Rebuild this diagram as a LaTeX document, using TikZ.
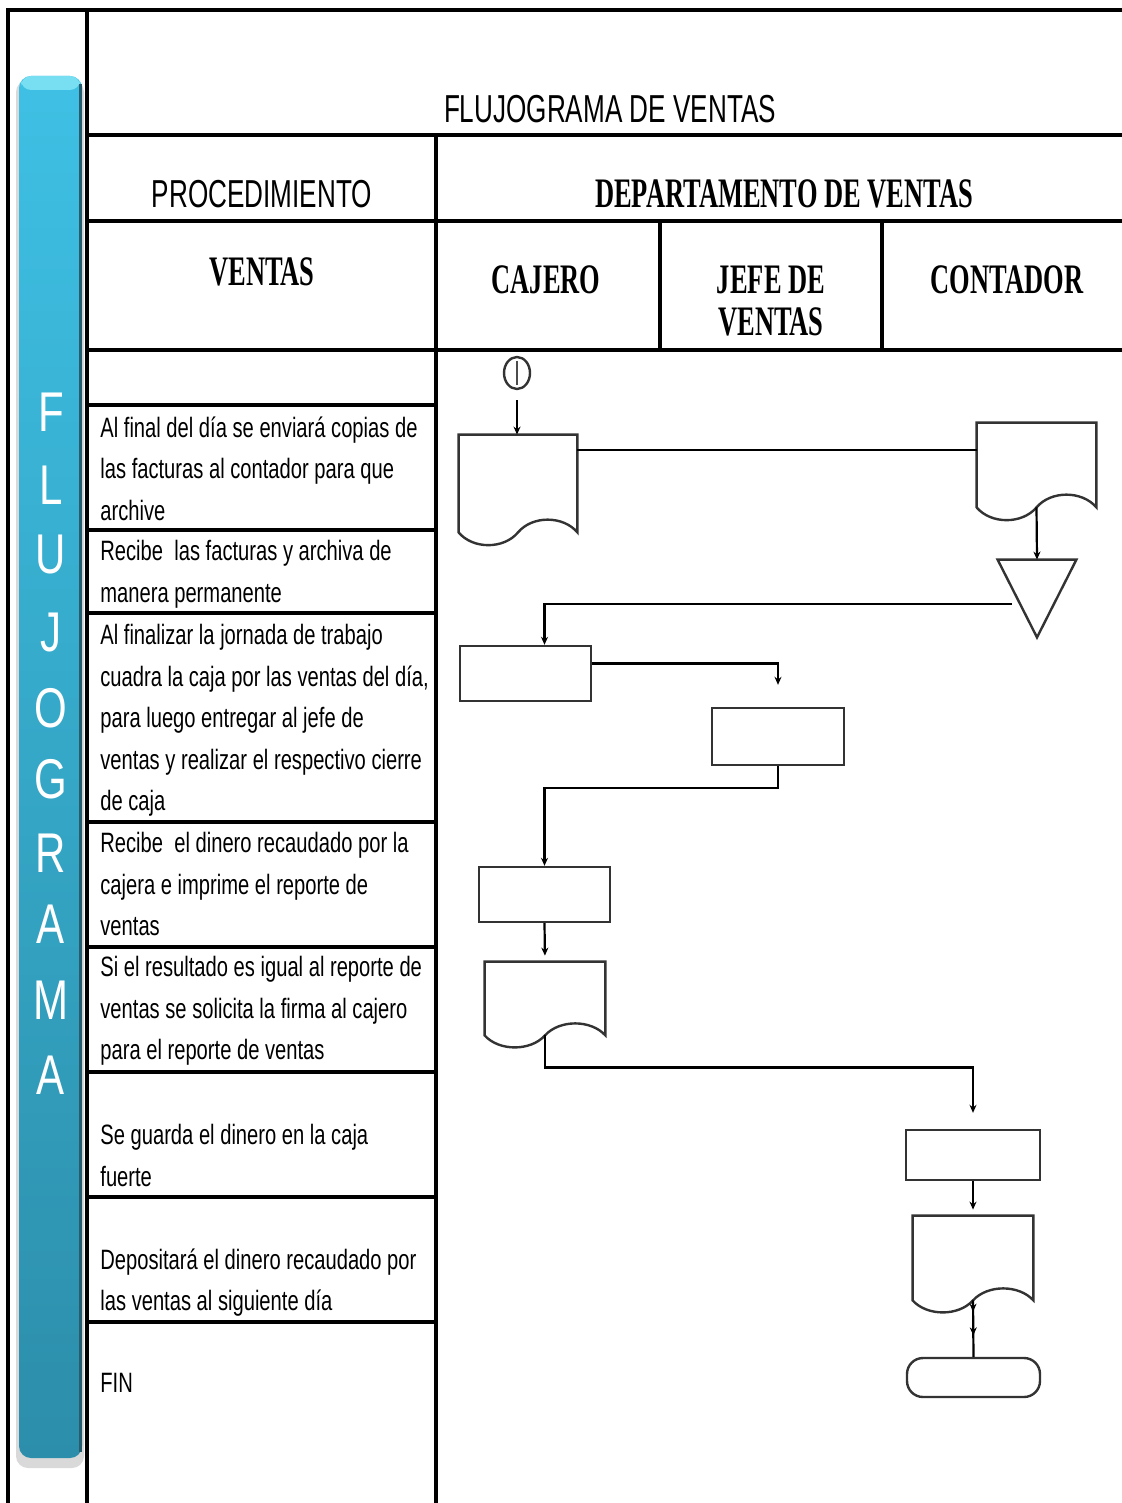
\documentclass[tikz,border=0pt]{standalone}
\usepackage{fontspec}
\usetikzlibrary{calc,fit,arrows.meta,shapes.geometric,decorations.markings}
\newfontfamily\hdsans{Liberation Sans}[FakeStretch=0.67]
\newfontfamily\hdserif{Liberation Serif}[FakeStretch=0.63]
\newfontfamily\stepsans{Liberation Sans}[FakeStretch=0.72]
\newfontfamily\barsans{Liberation Sans}[FakeStretch=0.75]
\definecolor{bartop}{RGB}{62,192,228}
\definecolor{barbot}{RGB}{44,142,170}
\definecolor{barhi}{RGB}{120,222,242}
\definecolor{baredge}{RGB}{38,92,108}
\newcommand\docdraw[2]{%
  \draw[shapeline] (#1.south west) -- (#1.north west) -- (#1.north east) -- (#1.south east)
    .. controls ($(#1.south east)!0.12!(#1.south west)+(0,-#2)$) and ($(#1.south east)!0.38!(#1.south west)+(0,-#2)$) .. ($(#1.south east)!0.5!(#1.south west)$)
    .. controls ($(#1.south east)!0.62!(#1.south west)+(0,#2)$) and ($(#1.south east)!0.88!(#1.south west)+(0,#2)$) .. (#1.south west) -- cycle;}
\begin{document}
\begin{tikzpicture}[x=0.5pt,y=-0.5pt,
  grid/.style={line width=1.75pt, line cap=rect},
  shapeline/.style={draw=black!80, line width=1.2pt},
  procbox/.style={shapeline, rectangle, inner sep=0pt},
  conn/.style={line width=1.1pt, black},
  arr/.style={conn, -{Stealth[length=4pt,width=3.5pt]}},
  headsans/.style={font=\hdsans\fontsize{19.5}{23}\selectfont, inner sep=0pt},
  headserif/.style={font=\hdserif\bfseries\fontsize{21}{21}\selectfont, inner sep=0pt},
  steptext/.style={font=\stepsans\fontsize{14}{20.75}\selectfont, anchor=north west, inner sep=0pt, align=left},
  barletter/.style={font=\barsans\fontsize{28}{28}\selectfont, text=white, inner sep=0pt}
]
\useasboundingbox (0,0) rectangle (1122,1503);
\fill[white] (0,0) rectangle (1122,1503);

% side bar
\fill[black!15, rounded corners=6pt] (16,80) rectangle (84,1468);
\shade[top color=bartop, bottom color=barbot, rounded corners=6pt] (19,76) rectangle (82,1458);
\fill[barhi, rounded corners=5pt] (21,76) rectangle (80,90);
\fill[baredge] (79,84) rectangle (82,1452);
\foreach \c/\yy [count=\i] in {F/412,L/485,U/555,J/633,O/708,G/779,R/853,A/924,M/1000,A/1075}
  \node[barletter] (bl\i) at (51,\yy) {\c};

% table grid
\draw[grid] (8,10) -- (1122,10);
\draw[grid] (8,10) -- (8,1503);
\draw[grid] (87,10) -- (87,1503);
\draw[grid] (87,135) -- (1122,135);
\draw[grid] (436,135) -- (436,1503);
\draw[grid] (87,221) -- (1122,221);
\draw[grid] (87,350) -- (1122,350);
\draw[grid] (660,221) -- (660,350);
\draw[grid] (882,221) -- (882,350);
\foreach \y in {405,530,613,822,947,1072,1197,1322} \draw[grid] (87,\y) -- (436,\y);

% headers
\node[headsans] (title) at (610,109) {FLUJOGRAMA DE VENTAS};
\node[headsans] (proc) at (262,194) {PROCEDIMIENTO};
\node[headserif] (dept) at (784,194) {DEPARTAMENTO DE VENTAS};
\node[headserif] (vent) at (262,272) {VENTAS};
\node[headserif] (caj) at (546,280) {CAJERO};
\node[headserif, align=center] (jefe) at (771,301) {JEFE DE\\VENTAS};
\node[headserif] (cont) at (1007,280) {CONTADOR};

% procedure steps
\node[steptext] (r1) at (100,416) {Al final del día se enviará copias de\\las facturas al contador para que\\archive};
\node[steptext] (r2) at (100,540) {Recibe\ \ las facturas y archiva de\\manera permanente};
\node[steptext] (r3) at (100,624) {Al finalizar la jornada de trabajo\\cuadra la caja por las ventas del día,\\para luego entregar al jefe de\\ventas y realizar el respectivo cierre\\de caja};
\node[steptext] (r4) at (100,832) {Recibe\ \ el dinero recaudado por la\\cajera e imprime el reporte de\\ventas};
\node[steptext] (r5) at (100,956) {Si el resultado es igual al reporte de\\ventas se solicita la firma al cajero\\para el reporte de ventas};
\node[steptext] (r6) at (100,1124) {Se guarda el dinero en la caja\\fuerte};
\node[steptext] (r7) at (100,1248) {Depositará el dinero recaudado por\\las ventas al siguiente día};
\node[steptext] (r8) at (100,1373) {FIN};

% flowchart shapes
\node[ellipse, shapeline, minimum width=13pt, minimum height=16pt, inner sep=0pt] (s) at (517,373) {};
\draw[black!70, line width=0.6pt] ($(s.north)+(0,5)$) -- ($(s.south)+(0,-5)$);
\node[fit={(459,435) (577,532)}, inner sep=0pt] (d1) {};
\docdraw{d1}{17}
\node[fit={(977,423) (1096,507)}, inner sep=0pt] (d2) {};
\docdraw{d2}{17}
\node[fit={(998,560) (1076,637)}, inner sep=0pt] (tri) {};
\draw[shapeline] (tri.north west) -- (tri.north east) -- (tri.south) -- cycle;
\node[procbox, fit={(460,646) (591,701)}] (p1) {};
\node[procbox, fit={(712,708) (844,765)}] (p2) {};
\node[procbox, fit={(479,867) (610,922)}] (p3) {};
\node[fit={(485,962) (605,1035)}, inner sep=0pt] (d3) {};
\docdraw{d3}{16}
\node[procbox, fit={(906,1130) (1040,1180)}] (p4) {};
\node[fit={(913,1216) (1033,1300)}, inner sep=0pt] (d4) {};
\docdraw{d4}{16}
\node[procbox, rounded corners=8pt, fit={(907,1358) (1040,1397)}] (term) {};

% connectors
\draw[arr, shorten <=5pt] (s.south) -- (s.south |- d1.north);
\coordinate (d1out) at ($(d1.north east)+(0,15)$);
\draw[conn] (d1out) -- (d1out -| d2.west);
\draw[arr] (d2.south) -- (tri.north);
\coordinate (trileft) at ($(tri.north west)!0.57!(tri.south)$);
\draw[arr, shorten <=4pt] (trileft) -| (p3.north |- p1.north);
\coordinate (p1out) at ($(p1.east)+(0,-10)$);
\draw[arr, shorten >=11pt] (p1out) -| (p2.north);
\draw[arr] (p2.south) -- ++(0,22) -| (p3.north);
\draw[arr, shorten >=3pt] (p3.south) -- (d3.north);
\draw[arr, shorten >=8pt] (d3.south) -- ++(0,32) -| (p4.north);
\draw[arr, shorten >=3pt] (p4.south) -- (d4.north);
\draw[conn, postaction={decorate}, decoration={markings,
    mark=at position 0.2 with {\arrow{Stealth[length=4pt,width=3.5pt]}},
    mark=at position 0.62 with {\arrow{Stealth[length=4pt,width=3.5pt]}}}]
  (d4.south) -- (term.north);
\end{tikzpicture}
\end{document}
